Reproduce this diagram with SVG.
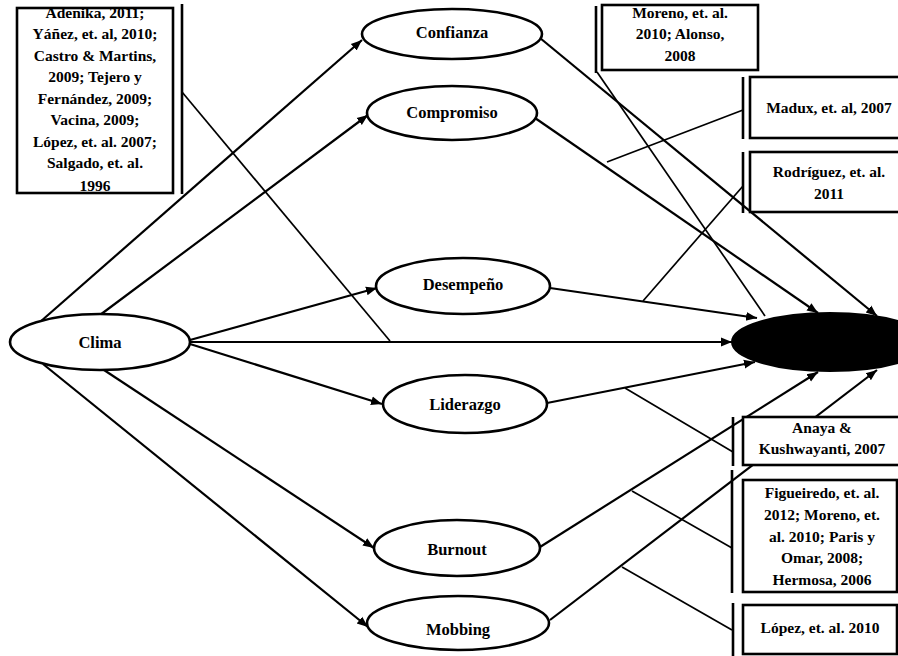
<svg xmlns="http://www.w3.org/2000/svg" width="898" height="656" viewBox="0 0 898 656">
<style>
.bg{fill:#fff}
.ln{stroke:#000;stroke-width:2.2;fill:none}
.an{stroke:#000;stroke-width:1.7;fill:none}
.el{fill:#fff;stroke:#000;stroke-width:2.6}
.bx{fill:#fff;stroke:#000;stroke-width:2.6}
.vb{stroke:#000;stroke-width:2.6}
.t{font-family:"Liberation Serif","Times New Roman",serif;font-weight:bold;font-size:15.5px;text-anchor:middle;fill:#000}
.n{font-family:"Liberation Serif","Times New Roman",serif;font-weight:bold;font-size:16.5px;text-anchor:middle;dominant-baseline:central;fill:#000}
</style>
<defs>
<marker id="ah" viewBox="0 0 10 10" refX="10" refY="5" markerWidth="11" markerHeight="11" markerUnits="userSpaceOnUse" orient="auto">
<path d="M0,1 L10,5 L0,9 Z" fill="#000"/>
</marker>
</defs>
<rect class="bg" x="0" y="0" width="898" height="656"/>
<g id="connectors">
<line class="ln" x1="40" y1="322" x2="362" y2="40" marker-end="url(#ah)"/>
<line class="ln" x1="100" y1="315" x2="368" y2="115" marker-end="url(#ah)"/>
<line class="ln" x1="190" y1="340" x2="377" y2="288" marker-end="url(#ah)"/>
<line class="ln" x1="190" y1="342" x2="732" y2="342" marker-end="url(#ah)"/>
<line class="ln" x1="190" y1="344" x2="382" y2="404" marker-end="url(#ah)"/>
<line class="ln" x1="104" y1="370" x2="374" y2="548" marker-end="url(#ah)"/>
<line class="ln" x1="43" y1="364" x2="368" y2="627" marker-end="url(#ah)"/>
<line class="ln" x1="540" y1="38" x2="877" y2="316" marker-end="url(#ah)"/>
<line class="ln" x1="535" y1="118" x2="818" y2="313" marker-end="url(#ah)"/>
<line class="ln" x1="550" y1="288" x2="757" y2="318" marker-end="url(#ah)"/>
<line class="ln" x1="547" y1="403" x2="755" y2="362" marker-end="url(#ah)"/>
<line class="ln" x1="540" y1="547" x2="818" y2="372" marker-end="url(#ah)"/>
<line class="ln" x1="550" y1="620" x2="877" y2="370" marker-end="url(#ah)"/>
<line class="an" x1="182" y1="92" x2="390" y2="341"/>
<line class="an" x1="597" y1="72" x2="765" y2="316"/>
<line class="an" x1="743" y1="110" x2="607" y2="162"/>
<line class="an" x1="743" y1="186" x2="643" y2="301"/>
<line class="an" x1="625" y1="388" x2="733" y2="452"/>
<line class="an" x1="632" y1="491" x2="732" y2="548"/>
<line class="an" x1="622" y1="567" x2="732" y2="630"/>
</g>
<g id="clima"><ellipse class="el" cx="100" cy="342" rx="90" ry="28"/><text class="n" x="100" y="342">Clima</text></g>
<g id="confianza"><ellipse class="el" cx="452" cy="34" rx="90" ry="25"/><text class="n" x="452" y="32">Confianza</text></g>
<g id="compromiso"><ellipse class="el" cx="452" cy="113" rx="85" ry="27"/><text class="n" x="452" y="112">Compromiso</text></g>
<g id="desempeno"><ellipse class="el" cx="463" cy="286" rx="87" ry="28"/><text class="n" x="463" y="284">Desempeño</text></g>
<g id="liderazgo"><ellipse class="el" cx="465" cy="404" rx="82" ry="29"/><text class="n" x="465" y="404">Liderazgo</text></g>
<g id="burnout"><ellipse class="el" cx="457" cy="548" rx="83" ry="28"/><text class="n" x="457" y="549">Burnout</text></g>
<g id="mobbing"><ellipse class="el" cx="458" cy="623" rx="91" ry="27"/><text class="n" x="458" y="629">Mobbing</text></g>
<g id="resultado"><ellipse cx="830" cy="342" rx="98" ry="29" fill="#000" stroke="#000" stroke-width="2"/></g>
<g id="ref-adenika">
<rect class="bx" x="17" y="8" width="156" height="185"/>
<line class="vb" x1="182" y1="4" x2="182" y2="194"/>
<text class="t" x="95" y="18">Adenika, 2011;</text>
<text class="t" x="95" y="39">Yáñez, et. al, 2010;</text>
<text class="t" x="95" y="61">Castro &amp; Martins,</text>
<text class="t" x="95" y="82">2009; Tejero y</text>
<text class="t" x="95" y="104">Fernández, 2009;</text>
<text class="t" x="95" y="125">Vacina, 2009;</text>
<text class="t" x="95" y="147">López, et. al. 2007;</text>
<text class="t" x="95" y="168">Salgado, et. al.</text>
<text class="t" x="95" y="191">1996</text>
</g>
<g id="ref-moreno">
<rect class="bx" x="602" y="5" width="156" height="65"/>
<line class="vb" x1="596" y1="6" x2="596" y2="73"/>
<text class="t" x="680" y="18">Moreno, et. al.</text>
<text class="t" x="680" y="39">2010; Alonso,</text>
<text class="t" x="680" y="61">2008</text>
</g>
<g id="ref-madux">
<rect class="bx" x="750" y="77" width="160" height="61"/>
<line class="vb" x1="743" y1="77" x2="743" y2="139"/>
<text class="t" x="829" y="113">Madux, et. al, 2007</text>
</g>
<g id="ref-rodriguez">
<rect class="bx" x="750" y="152" width="160" height="60"/>
<line class="vb" x1="743" y1="152" x2="743" y2="213"/>
<text class="t" x="829" y="177">Rodríguez, et. al.</text>
<text class="t" x="829" y="199">2011</text>
</g>
<g id="ref-anaya">
<rect class="bx" x="743" y="417" width="165" height="48"/>
<line class="vb" x1="733" y1="417" x2="733" y2="466"/>
<text class="t" x="822" y="433">Anaya &amp;</text>
<text class="t" x="822" y="454">Kushwayanti, 2007</text>
</g>
<g id="ref-figueiredo">
<rect class="bx" x="743" y="480" width="154" height="112"/>
<line class="vb" x1="732" y1="470" x2="732" y2="593"/>
<text class="t" x="822" y="498">Figueiredo, et. al.</text>
<text class="t" x="822" y="520">2012; Moreno, et.</text>
<text class="t" x="822" y="542">al. 2010; Paris y</text>
<text class="t" x="822" y="563">Omar, 2008;</text>
<text class="t" x="822" y="585">Hermosa, 2006</text>
</g>
<g id="ref-lopez">
<rect class="bx" x="743" y="605" width="154" height="49"/>
<line class="vb" x1="733" y1="603" x2="733" y2="656"/>
<text class="t" x="820" y="633">López, et. al. 2010</text>
</g>
</svg>
